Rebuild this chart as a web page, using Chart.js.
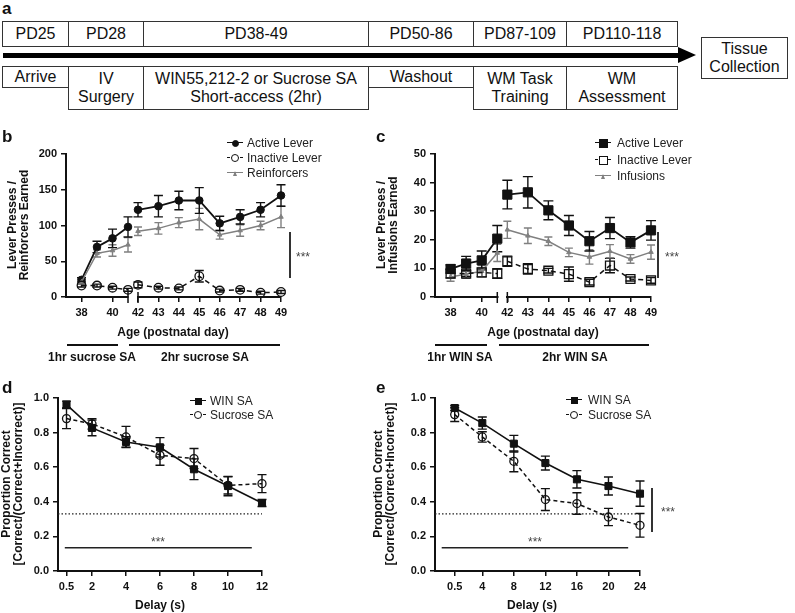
<!DOCTYPE html>
<html><head><meta charset="utf-8">
<script src="https://cdn.jsdelivr.net/npm/chart.js@4.4.0/dist/chart.umd.min.js"></script>
<style>
html,body{margin:0;padding:0;background:#fff}
#root{position:relative;width:795px;height:613px;overflow:hidden;font-family:"Liberation Sans",Arial,Helvetica,sans-serif;color:#111}
#root canvas{position:absolute}
.plab{position:absolute;font-weight:bold;font-size:17px;line-height:17px}
.bx{position:absolute;border:1.2px solid #333;box-sizing:border-box;display:flex;align-items:center;justify-content:center;text-align:center;font-size:16px;line-height:18px;background:#fff}
.ytitle{position:absolute;width:220px;height:24px;font-weight:bold;font-size:12px;line-height:12px;text-align:center;transform:rotate(-90deg);white-space:nowrap}
.xtitle{position:absolute;font-weight:bold;font-size:12px;transform:translate(-50%,-50%);white-space:nowrap}
.hl{position:absolute;background:#111}
.stars{position:absolute;font-size:12px;color:#444;transform:translate(-50%,-50%);white-space:nowrap}
.lg{position:absolute;font-size:12px;line-height:14px;color:#222;white-space:nowrap}
.z{z-index:5}
</style></head>
<body><div id="root">
<!-- panel a -->
<div class="plab z" style="left:2px;top:0px">a</div>
<div class="bx" style="left:2px;top:21px;width:67px;height:26px">PD25</div>
<div class="bx" style="left:68px;top:21px;width:76px;height:26px">PD28</div>
<div class="bx" style="left:143px;top:21px;width:226px;height:26px">PD38-49</div>
<div class="bx" style="left:368px;top:21px;width:106px;height:26px">PD50-86</div>
<div class="bx" style="left:473px;top:21px;width:94px;height:26px">PD87-109</div>
<div class="bx" style="left:566px;top:21px;width:112px;height:26px">PD110-118</div>
<div style="position:absolute;left:3px;top:53px;width:678px;height:5px;background:#000"></div>
<div style="position:absolute;left:678px;top:47px;width:0;height:0;border-top:8px solid transparent;border-bottom:8px solid transparent;border-left:18px solid #000"></div>
<div class="bx" style="left:2px;top:66px;width:67px;height:22px">Arrive</div>
<div class="bx" style="left:68px;top:66px;width:76px;height:44px">IV<br>Surgery</div>
<div class="bx" style="left:143px;top:66px;width:226px;height:44px">WIN55,212-2 or Sucrose SA<br>Short-access (2hr)</div>
<div class="bx" style="left:368px;top:66px;width:106px;height:22px">Washout</div>
<div class="bx" style="left:473px;top:66px;width:94px;height:44px">WM Task<br>Training</div>
<div class="bx" style="left:566px;top:66px;width:112px;height:44px">WM<br>Assessment</div>
<div class="bx" style="left:701px;top:37px;width:87px;height:42px">Tissue<br>Collection</div>

<!-- panel labels -->
<div class="plab z" style="left:2px;top:128px">b</div>
<div class="plab z" style="left:376px;top:128px">c</div>
<div class="plab z" style="left:2px;top:379px">d</div>
<div class="plab z" style="left:376px;top:379px">e</div>

<!-- axis titles -->
<div class="ytitle z" style="left:-92px;top:213px">Lever Presses /<br>Reinforcers Earned</div>
<div class="ytitle z" style="left:277px;top:213px">Lever Presses /<br>Infusions Earned</div>
<div class="ytitle z" style="left:-98px;top:472px">Proportion Correct<br>[Correct/(Correct+Incorrect)]</div>
<div class="ytitle z" style="left:274px;top:472px">Proportion Correct<br>[Correct/(Correct+Incorrect)]</div>
<div class="xtitle z" style="left:173px;top:332px">Age (postnatal day)</div>
<div class="xtitle z" style="left:543px;top:332px">Age (postnatal day)</div>
<div class="xtitle z" style="left:160px;top:605px">Delay (s)</div>
<div class="xtitle z" style="left:532px;top:605px">Delay (s)</div>

<!-- session bars -->
<div class="hl z" style="left:67px;top:344px;width:51px;height:2px"></div>
<div class="hl z" style="left:129px;top:344px;width:151px;height:2px"></div>
<div class="xtitle z" style="left:92px;top:357px">1hr sucrose SA</div>
<div class="xtitle z" style="left:205px;top:357px">2hr sucrose SA</div>
<div class="hl z" style="left:435px;top:344px;width:52px;height:2px"></div>
<div class="hl z" style="left:499px;top:344px;width:150px;height:2px"></div>
<div class="xtitle z" style="left:460px;top:357px">1hr WIN SA</div>
<div class="xtitle z" style="left:575px;top:357px">2hr WIN SA</div>

<!-- significance brackets -->
<div class="hl z" style="left:289px;top:232px;width:1.5px;height:46px;background:#333"></div>
<div class="stars z" style="left:303px;top:257px">***</div>
<div class="hl z" style="left:657px;top:232px;width:1.5px;height:46px;background:#333"></div>
<div class="stars z" style="left:672px;top:257px">***</div>
<div class="hl z" style="left:651px;top:488px;width:1.5px;height:44px;background:#333"></div>
<div class="stars z" style="left:668px;top:512px">***</div>
<div class="stars z" style="left:158px;top:542px">***</div>
<div class="stars z" style="left:535px;top:542px">***</div>

<canvas id="cb" width="300" height="190" style="left:0px;top:140px"></canvas>
<canvas id="cc" width="300" height="190" style="left:380px;top:140px"></canvas>
<canvas id="cd" width="300" height="228" style="left:0px;top:385px"></canvas>
<canvas id="ce" width="300" height="228" style="left:380px;top:385px"></canvas>
</div>
<script>
// ---------------- data ----------------
const days = [38,39,40,41,42,43,44,45,46,47,48,49];
const lastShortAccessDay = 41;
const earlyTicks = [38,40];
const lateTicks = [42,43,44,45,46,47,48,49];

// panel b : sucrose SA
const sucActive      = [24,70,82,98,122,127,135,135,103,112,122,142];
const sucActiveErr   = [3,8,13,14,10,15,13,18,10,10,10,15];
const sucInactive    = [16,16,13,10,17,13,12,29,9,10,6,7];
const sucInactiveErr = [2,2,2,2,4,2,2,8,2,2,2,2];
const sucReinf       = [21,61,65,73,92,96,104,109,87,93,100,112];
const sucReinfErr    = [3,5,8,10,6,8,7,15,6,8,6,15];

// panel c : WIN SA
const winActive      = [9.8,11.7,12.8,20.4,35.8,36.6,30.3,25,19.5,24.1,19.1,23.3];
const winActiveErr   = [1.5,2.5,3.3,4.6,5,5.5,3.3,3.5,3.4,3.7,2,3.4];
const winInactive    = [8.2,8.2,8.6,8.2,12.5,9.8,9.2,8,5.2,11,6.3,5.8];
const winInactiveErr = [1.5,1,1.5,1.7,1.8,1.8,0.8,2.5,1,2.5,0.7,1];
const winInfusions   = [7,8,9,15.4,23.5,21.4,19.5,15.6,14,16,13.3,15.7];
const winInfusionsErr= [1.5,1.5,2,3,3,2.7,1.5,1.5,2.5,2.3,1.5,2.5];

// panel d : training delays
const dDelays = [0.5,2,4,6,8,10,12];
const dWin    = [0.962,0.827,0.746,0.715,0.588,0.491,0.393];
const dWinErr = [0.02,0.045,0.03,0.056,0.06,0.056,0.02];
const dSuc    = [0.881,0.85,0.775,0.669,0.65,0.495,0.505];
const dSucErr = [0.058,0.03,0.061,0.058,0.058,0.05,0.052];

// panel e : assessment delays
const eDelays = [0.5,4,8,12,16,20,24];
const eWin    = [0.942,0.855,0.736,0.624,0.53,0.491,0.447];
const eWinErr = [0.015,0.035,0.048,0.04,0.05,0.052,0.073];
const eSuc    = [0.904,0.775,0.634,0.413,0.39,0.312,0.264];
const eSucErr = [0.04,0.03,0.06,0.063,0.062,0.05,0.068];

const chanceLevel = 0.33;
const dSigBar = {y:0.135, from:0.4, to:11.4};
const eSigBar = {y:0.135, from:-1.15, to:22.5};

// ---------------- helpers ----------------
Chart.defaults.font.family = '"Liberation Sans", Arial, sans-serif';
Chart.defaults.color = '#111';
const INK = '#111', GREY = '#808080';

const errorBars = {
  id:'errorBars',
  beforeDatasetsDraw(chart){
    const ctx = chart.ctx;
    chart.data.datasets.forEach((ds, di) => {
      if (!ds.errors) return;
      const meta = chart.getDatasetMeta(di);
      const ys = chart.scales[meta.yAxisID];
      ctx.save();
      ctx.strokeStyle = ds.errColor; ctx.lineWidth = 1.4; ctx.setLineDash([]);
      ds.data.forEach((p, i) => {
        const e = ds.errors[i]; if (!e) return;
        const x = meta.data[i].x;
        const yt = ys.getPixelForValue(p.y + e), yb = ys.getPixelForValue(p.y - e);
        const c = ds.capHalf || 4;
        ctx.beginPath();
        ctx.moveTo(x, yt); ctx.lineTo(x, yb);
        ctx.moveTo(x - c, yt); ctx.lineTo(x + c, yt);
        ctx.moveTo(x - c, yb); ctx.lineTo(x + c, yb);
        ctx.stroke();
      });
      ctx.restore();
    });
  }
};
const breakMarks = {
  id:'breakMarks',
  afterDraw(chart, args, opts){
    if (!opts.marks) return;
    const ctx = chart.ctx, yb = chart.chartArea.bottom;
    ctx.save(); ctx.strokeStyle = INK; ctx.lineWidth = 1.5;
    opts.marks.forEach(m => {
      const x = chart.scales[m.axis].getPixelForValue(m.value);
      ctx.beginPath(); ctx.moveTo(x, yb - 5); ctx.lineTo(x, yb + 6); ctx.stroke();
    });
    ctx.restore();
  }
};
const refLines = {
  id:'refLines',
  beforeDatasetsDraw(chart, args, opts){
    const {ctx, chartArea, scales} = chart;
    ctx.save();
    if (opts.chance != null) {
      const y = scales.y.getPixelForValue(opts.chance);
      ctx.setLineDash([1.5,2]); ctx.lineWidth = 1.2; ctx.strokeStyle = '#222';
      ctx.beginPath(); ctx.moveTo(chartArea.left, y); ctx.lineTo(chartArea.right, y); ctx.stroke();
    }
    if (opts.sig) {
      const y = scales.y.getPixelForValue(opts.sig.y);
      ctx.setLineDash([]); ctx.lineWidth = 1.5; ctx.strokeStyle = '#222';
      ctx.beginPath();
      ctx.moveTo(scales.x.getPixelForValue(opts.sig.from), y);
      ctx.lineTo(scales.x.getPixelForValue(opts.sig.to), y); ctx.stroke();
    }
    ctx.restore();
  }
};

const tickFont = {size:11, weight:'bold'};
function yAxis(min, max, step, width, fmt){
  return {type:'linear', position:'left', min, max,
    afterFit: s => { s.width = width; },
    ticks:{stepSize:step, padding:4, font:tickFont, color:INK, callback: fmt},
    grid:{drawOnChartArea:false, tickLength:5, color:INK, lineWidth:1.5},
    border:{color:INK, width:2}};
}
function xAxis(min, max, ticks, extra){
  return Object.assign({type:'linear', position:'bottom', min, max,
    afterBuildTicks: s => { s.ticks = ticks.map(v => ({value:v})); },
    afterFit: s => { s.height = 20; },
    ticks:{autoSkip:false, maxRotation:0, padding:4, font:tickFont, color:INK, callback: v => String(v)},
    grid:{drawOnChartArea:false, tickLength:5, color:INK, lineWidth:1.5},
    border:{color:INK, width:2}}, extra || {});
}
const early = d => d <= lastShortAccessDay, late = d => d > lastShortAccessDay;
function series(xs, ys, es, keep, style, axis){
  const idx = xs.map((x,i)=>i).filter(i => keep(xs[i]));
  return Object.assign({
    data: idx.map(i => ({x: xs[i], y: ys[i]})),
    errors: idx.map(i => es[i]),
    xAxisID: axis, yAxisID:'y', clip:false, tension:0
  }, style);
}
const all = () => true;

const stFilledCircle = {borderColor:INK, borderWidth:1.8, pointStyle:'circle', pointRadius:3.8, pointBackgroundColor:INK, pointBorderColor:INK, pointBorderWidth:1, errColor:INK, capHalf:4.5};
const stOpenCircle   = {borderColor:INK, borderWidth:1.5, borderDash:[5,4], pointStyle:'circle', pointRadius:4.3, pointBackgroundColor:'rgba(0,0,0,0)', pointBorderColor:INK, pointBorderWidth:1.3, errColor:INK, capHalf:4.5};
const stGrey         = {borderColor:GREY, borderWidth:1.5, pointStyle:'triangle', pointRadius:2.6, pointBackgroundColor:GREY, pointBorderColor:GREY, pointBorderWidth:1, errColor:GREY, capHalf:4};
const stFilledSquare = {borderColor:INK, borderWidth:1.8, pointStyle:'rect', pointRadius:6.5, pointBackgroundColor:INK, pointBorderColor:INK, pointBorderWidth:1, errColor:INK, capHalf:5};
const stOpenSquare   = {borderColor:INK, borderWidth:1.5, borderDash:[5,4], pointStyle:'rect', pointRadius:6.3, pointBackgroundColor:'rgba(0,0,0,0)', pointBorderColor:INK, pointBorderWidth:1.3, errColor:INK, capHalf:5};
const stSmallSquare  = {borderColor:INK, borderWidth:1.6, pointStyle:'rect', pointRadius:5, pointBackgroundColor:INK, pointBorderColor:INK, pointBorderWidth:1, errColor:INK, capHalf:4.5};
const stSmallOpen    = {borderColor:INK, borderWidth:1.5, borderDash:[4,3], pointStyle:'circle', pointRadius:4, pointBackgroundColor:'rgba(0,0,0,0)', pointBorderColor:INK, pointBorderWidth:1.3, errColor:INK, capHalf:4.5};

function brokenAxisScales(yMax, yStep, yWidth){
  return {
    y: yAxis(0, yMax, yStep, yWidth, v => String(v)),
    xa: xAxis(37, 41, earlyTicks, {stack:'days', stackWeight:62}),
    xgap: {type:'linear', position:'bottom', stack:'days', stackWeight:10, min:0, max:1,
           afterFit: s => { s.height = 20; }, ticks:{display:false}, grid:{display:false}, border:{display:false}},
    xb: xAxis(42, 49, lateTicks, {stack:'days', stackWeight:143})
  };
}
function baseOpts(padding, scales, pluginOpts){
  return {responsive:false, animation:false, maintainAspectRatio:false,
    layout:{padding}, scales,
    plugins:Object.assign({legend:{display:false}, tooltip:{enabled:false}}, pluginOpts||{})};
}

// ---------------- panel b ----------------
function brokenDatasets(triples){
  const out = [];
  triples.forEach(t => {
    out.push(series(days, t[0], t[1], early, t[2], 'xa'));
    out.push(series(days, t[0], t[1], late, t[2], 'xb'));
  });
  return out;
}
new Chart(document.getElementById('cb'), {
  type:'line',
  data:{datasets: brokenDatasets([
    [sucInactive, sucInactiveErr, stOpenCircle],
    [sucReinf, sucReinfErr, stGrey],
    [sucActive, sucActiveErr, stFilledCircle]])},
  options: baseOpts({left:0, top:14, right:19, bottom:13}, brokenAxisScales(200, 50, 66),
    {breakMarks:{marks:[{axis:'xa', value:41},{axis:'xb', value:42}]}}),
  plugins:[errorBars, breakMarks]
});

// ---------------- panel c ----------------
new Chart(document.getElementById('cc'), {
  type:'line',
  data:{datasets: brokenDatasets([
    [winInactive, winInactiveErr, stOpenSquare],
    [winInfusions, winInfusionsErr, stGrey],
    [winActive, winActiveErr, stFilledSquare]])},
  options: baseOpts({left:0, top:14, right:29, bottom:13}, brokenAxisScales(50, 10, 55),
    {breakMarks:{marks:[{axis:'xa', value:41},{axis:'xb', value:42}]}}),
  plugins:[errorBars, breakMarks]
});

// ---------------- panels d, e ----------------
function delayChart(id, xs, win, winErr, suc, sucErr, xmin, xmax, padding, yWidth, sig){
  new Chart(document.getElementById(id), {
    type:'line',
    data:{datasets:[
      series(xs, suc, sucErr, all, stSmallOpen, 'x'),
      series(xs, win, winErr, all, stSmallSquare, 'x')]},
    options: baseOpts(padding, {
      y: yAxis(0, 1, 0.2, yWidth, v => v.toFixed(1)),
      x: xAxis(xmin, xmax, xs)
    }, {refLines:{chance:chanceLevel, sig}}),
    plugins:[refLines, errorBars]
  });
}
delayChart('cd', dDelays, dWin, dWinErr, dSuc, dSucErr, 0, 12, {left:0, top:13, right:38, bottom:22}, 58, dSigBar);
delayChart('ce', eDelays, eWin, eWinErr, eSuc, eSucErr, -2, 24, {left:0, top:13, right:40, bottom:22}, 55, eSigBar);

// ---------------- legends (HTML) ----------------
const root = document.getElementById('root');
function el(css, cls, html){ const d = document.createElement('div'); d.style.cssText = css; if (cls) d.className = cls; if (html != null) d.textContent = html; root.appendChild(d); return d; }
function legendEntry(cx, cy, textLeft, text, kind){
  const dashed = kind.dashed, color = kind.color || INK;
  el(`position:absolute;z-index:6;left:${cx-8}px;top:${cy-0.75}px;width:16px;height:0;border-top:1.6px ${dashed?'dashed':'solid'} ${color}`);
  const s = kind.size;
  if (kind.shape === 'circle') el(`position:absolute;z-index:7;left:${cx-s/2}px;top:${cy-s/2}px;width:${s}px;height:${s}px;box-sizing:border-box;border-radius:50%;border:1.3px solid ${color};background:${kind.fill?color:'#fff'}`);
  if (kind.shape === 'square') el(`position:absolute;z-index:7;left:${cx-s/2}px;top:${cy-s/2}px;width:${s}px;height:${s}px;box-sizing:border-box;border:1.3px solid ${color};background:${kind.fill?color:'#fff'}`);
  if (kind.shape === 'tri') el(`position:absolute;z-index:7;left:${cx-2.5}px;top:${cy-2.5}px;width:0;height:0;border-left:2.5px solid transparent;border-right:2.5px solid transparent;border-bottom:5px solid ${color}`);
  el(`left:${textLeft}px;top:${cy-7}px;z-index:7`, 'lg', text);
}
legendEntry(235,143,247,'Active Lever',{shape:'circle',fill:true,size:7});
legendEntry(235,158,247,'Inactive Lever',{shape:'circle',fill:false,size:8,dashed:true});
legendEntry(235,173,247,'Reinforcers',{shape:'tri',color:GREY});
legendEntry(603,143,617,'Active  Lever',{shape:'square',fill:true,size:9});
legendEntry(603,160,617,'Inactive Lever',{shape:'square',fill:false,size:9,dashed:true});
legendEntry(603,176,617,'Infusions',{shape:'tri',color:GREY});
legendEntry(198,401,210,'WIN SA',{shape:'square',fill:true,size:7});
legendEntry(198,415,210,'Sucrose SA',{shape:'circle',fill:false,size:8,dashed:true});
legendEntry(574,400,588,'WIN SA',{shape:'square',fill:true,size:7});
legendEntry(574,415,588,'Sucrose SA',{shape:'circle',fill:false,size:8,dashed:true});
</script>
</body></html>
